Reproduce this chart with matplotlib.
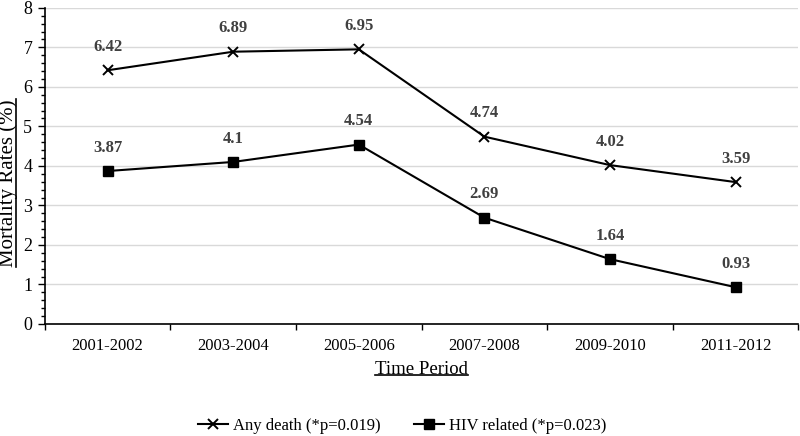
import matplotlib
matplotlib.use("Agg")
import matplotlib.pyplot as plt
from matplotlib.ticker import MultipleLocator, FixedLocator
from matplotlib.lines import Line2D

plt.rcParams['font.family'] = ['Liberation Serif', 'DejaVu Serif']

periods = ["2001-2002", "2003-2004", "2005-2006", "2007-2008", "2009-2010", "2011-2012"]
any_death = [6.42, 6.89, 6.95, 4.74, 4.02, 3.59]
hiv_related = [3.87, 4.1, 4.54, 2.69, 1.64, 0.93]
any_labels = ["6.42", "6.89", "6.95", "4.74", "4.02", "3.59"]
hiv_labels = ["3.87", "4.1", "4.54", "2.69", "1.64", "0.93"]

fig = plt.figure(figsize=(8, 4.36), dpi=100)
ax = fig.add_axes([0.056, 0.257, 0.942, 0.725])

x = list(range(len(periods)))
ax.plot(x, any_death, color='black', marker='x', markersize=7, markeredgewidth=1.4,
        linewidth=1.5, label='Any death (*p=0.019)')
ax.plot(x, hiv_related, color='black', marker='s', markersize=7.5,
        linewidth=1.5, label='HIV related (*p=0.023)')

for xi, v, t in zip(x, any_death, any_labels):
    ax.annotate(t, (xi, v), xytext=(0, 11), textcoords='offset points', ha='center',
                va='bottom', fontsize=12, fontweight='bold', color='#404040')
for xi, v, t in zip(x, hiv_related, hiv_labels):
    ax.annotate(t, (xi, v), xytext=(0, 11), textcoords='offset points', ha='center',
                va='bottom', fontsize=12, fontweight='bold', color='#404040')

ax.set_xlim(-0.5, len(periods) - 0.5)
ax.set_ylim(0, 8)
ax.set_xticks(x)
ax.set_xticklabels(periods, fontsize=12)
ax.xaxis.set_minor_locator(FixedLocator([i + 0.5 for i in range(-1, len(periods))]))
ax.tick_params(axis='x', which='major', length=0, pad=10)
ax.tick_params(axis='x', which='minor', length=4, width=1, direction='out')
ax.yaxis.set_major_locator(MultipleLocator(1))
ax.yaxis.set_minor_locator(MultipleLocator(0.2))
ax.tick_params(axis='y', which='major', length=5, width=1, labelsize=13, pad=4)
ax.tick_params(axis='y', which='minor', length=3, width=1)

ax.grid(axis='y', which='major', color='#d9d9d9', linewidth=1)
ax.set_axisbelow(True)
for s in ['top', 'right']:
    ax.spines[s].set_visible(False)
ax.spines['left'].set_linewidth(1.2)
ax.spines['bottom'].set_linewidth(1.2)

ylab = ax.set_ylabel('Mortality Rates (%)', fontsize=15)
ax.yaxis.set_label_coords(-0.035, 0.446)
xlab = ax.set_xlabel('Time Period', fontsize=13.5, labelpad=5)

fig.legend(loc='lower center', bbox_to_anchor=(0.503, -0.03), ncol=2, frameon=False,
           fontsize=12, handlelength=1.8, handletextpad=0.3, columnspacing=2.0)

# underline axis titles
fig.canvas.draw()
r = fig.canvas.get_renderer()
W, H = fig.get_size_inches() * fig.dpi
bb = xlab.get_window_extent(r)
yline = bb.y0 + 2.5
fig.add_artist(Line2D([bb.x0 / W, bb.x1 / W], [yline / H, yline / H], color='black', linewidth=1.2))
bb = ylab.get_window_extent(r)
xline = bb.x1 - 2.5
fig.add_artist(Line2D([xline / W, xline / W], [bb.y0 / H, bb.y1 / H], color='black', linewidth=1.2))

fig.savefig('out.png', dpi=100)
